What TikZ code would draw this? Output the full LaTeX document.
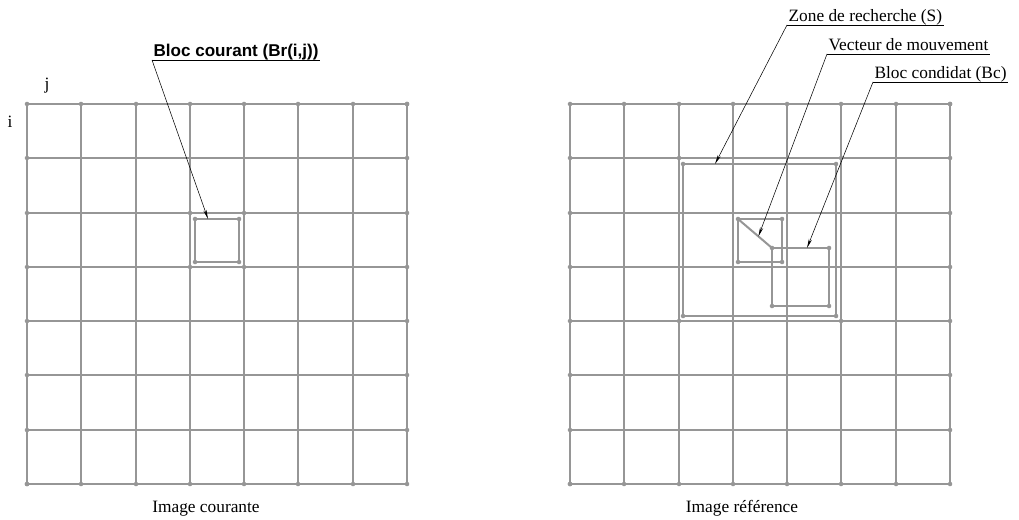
\documentclass[tikz,border=0pt]{standalone}
\usepackage{fontspec}
\setmainfont{Liberation Serif}
\setsansfont{Liberation Sans}
\usetikzlibrary{arrows.meta,calc}
\definecolor{gridgray}{RGB}{150,150,150}

\begin{document}
\begin{tikzpicture}[x=0.75pt, y=-0.75pt,
    gridline/.style={draw=gridgray, line width=1.5pt},
    knot/.style={fill=gridgray},
    txt/.style={font=\fontsize{13}{15}\selectfont},
    lbl/.style={txt, inner xsep=1pt, inner ysep=0pt, text depth=2.6pt, anchor=south west},
    pointer/.style={-{Stealth[length=7pt,width=2.4pt]}, line width=0.4pt}
  ]
  \useasboundingbox (0,0) rectangle (1019,520);

  % Image courante
  \foreach \d in {0,54,109,163,217,271,326,380} {
    \draw[gridline] (27+\d,104) -- (27+\d,484);
    \draw[gridline] (27,104+\d) -- (407,104+\d);
    \fill[knot] (27+\d,104) circle (1.7pt) (27+\d,484) circle (1.7pt)
      (27,104+\d) circle (1.7pt) (407,104+\d) circle (1.7pt);
  }
  \draw[gridline] (195,219) rectangle (239,262);
  \foreach \p in {(195,219),(239,219),(195,262),(239,262),(190,213),(244,213),(190,267),(244,267)}
    \fill[knot] \p circle (1.7pt);
  \coordinate (tcourant) at (208,219);
  \node[txt, anchor=base] (jlbl) at (47,90) {j};
  \node[txt, anchor=base] (ilbl) at (10,128) {i};
  \node[txt, anchor=base] (capcourant) at (206,512) {Image courante};

  % Image reference
  \foreach \d in {0,54,109,163,217,271,326,380} {
    \draw[gridline] (570+\d,104) -- (570+\d,484);
    \draw[gridline] (570,104+\d) -- (950,104+\d);
    \fill[knot] (570+\d,104) circle (1.7pt) (570+\d,484) circle (1.7pt)
      (570,104+\d) circle (1.7pt) (950,104+\d) circle (1.7pt);
  }
  % zone de recherche
  \draw[gridline] (683,164) rectangle (836,316);
  \foreach \p in {(683,164),(836,164),(683,316),(836,316),(679,158),(841,158),(679,321),(841,321)}
    \fill[knot] \p circle (1.7pt);
  % bloc courant + bloc candidat
  \draw[gridline] (738,219) rectangle (782,262);
  \draw[gridline] (772,248) rectangle (829,306);
  \foreach \p in {(738,219),(782,219),(738,262),(782,262),(772,248),(829,248),(772,306),(829,306)}
    \fill[knot] \p circle (1.7pt);
  \coordinate (vorig) at (738,219);
  \coordinate (vend) at (772,248);
  \draw[gridline] (vorig) -- (vend);
  \coordinate (tzone) at (715,164);
  \coordinate (tvect) at ($(vorig)!0.6!(vend)$);
  \coordinate (tcand) at (807,248);
  \node[txt, anchor=base] (capref) at (742,512) {Image référence};

  % labels
  \node[lbl, font=\sffamily\bfseries\fontsize{12.8}{15}\selectfont] (lcourant) at (152,60) {Bloc courant (Br(i,j))};
  \node[lbl] (lzone) at (787,25) {Zone de recherche (S)};
  \node[lbl] (lvect) at (827,54) {Vecteur de mouvement};
  \node[lbl] (lcand) at (873,82) {Bloc condidat (Bc)};
  \foreach \l/\t in {lcourant/tcourant, lzone/tzone, lvect/tvect, lcand/tcand} {
    \draw[line width=0.4pt] (\l.south west) -- (\l.south east);
    \draw[pointer] (\l.south west) -- (\t);
  }
\end{tikzpicture}
\end{document}
